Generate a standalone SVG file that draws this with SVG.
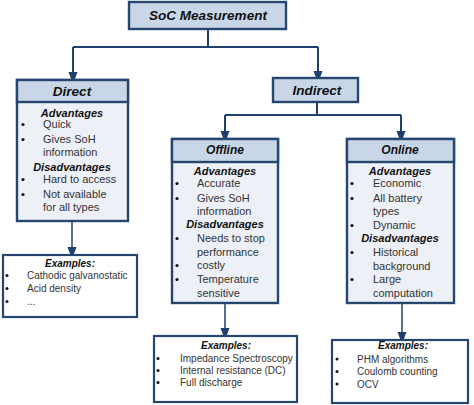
<svg xmlns="http://www.w3.org/2000/svg" width="474" height="405" viewBox="0 0 474 405">
<defs>
<marker id="ahd" markerUnits="userSpaceOnUse" markerWidth="12" markerHeight="16" refX="8" refY="6" orient="auto" viewBox="0 0 16 12">
<path d="M0,0 L16,6 L0,12 Z" fill="#1f3f6e"/>
</marker>
</defs>
<style>
.hdr{fill:#c8d6e8;stroke:#26466f;stroke-width:2.4}
.body{fill:#edf1f7;stroke:#26466f;stroke-width:2.4}
.ex{fill:#ffffff;stroke:#26466f;stroke-width:2.2}
.ht{font-family:"Liberation Sans",Arial,sans-serif;font-weight:bold;font-style:italic;fill:#111;text-anchor:middle}
.h1{font-size:13.5px}
.h2{font-size:12px}
.sub{font-family:"Liberation Sans",Arial,sans-serif;font-weight:bold;font-style:italic;font-size:11px;fill:#111;text-anchor:middle}
.it{font-family:"Liberation Sans",Arial,sans-serif;font-size:11px;fill:#333}
.exh{font-family:"Liberation Sans",Arial,sans-serif;font-weight:bold;font-style:italic;font-size:10px;fill:#111;text-anchor:middle}
.ei{font-family:"Liberation Sans",Arial,sans-serif;font-size:10px;fill:#333}
.b{fill:#111}
.con{fill:none;stroke:#1f3f6e;stroke-width:2}
</style>
<g id="connectors">
<path class="con" d="M208,29 V47"/>
<path class="con" d="M73,47 H318"/>
<path class="con" d="M73,47 V78" marker-end="url(#ahd)"/>
<path class="con" d="M318,47 V77" marker-end="url(#ahd)"/>
<path class="con" d="M317,102 V115"/>
<path class="con" d="M225,115 H401"/>
<path class="con" d="M225,115 V137" marker-end="url(#ahd)"/>
<path class="con" d="M401,115 V137" marker-end="url(#ahd)"/>
<path class="con" style="stroke-width:1.5" d="M72,221 V253" marker-end="url(#ahd)"/>
<path class="con" style="stroke-width:1.5" d="M225,303 V334" marker-end="url(#ahd)"/>
<path class="con" style="stroke-width:1.5" d="M402,303 V338" marker-end="url(#ahd)"/>
</g>
<g id="soc">
<rect class="hdr" x="129" y="2" width="157" height="27"/>
<text class="ht h1" x="208" y="19.5">SoC Measurement</text>
</g>
<g id="direct">
<rect class="body" x="17" y="80" width="111" height="141"/>
<rect class="hdr" x="17" y="80" width="111" height="22"/>
<text class="ht h1" x="72" y="95.5">Direct</text>
<text class="sub" x="72" y="117">Advantages</text>
<circle class="b" cx="23" cy="124.5" r="1.6"/><text class="it" x="43" y="128">Quick</text>
<circle class="b" cx="23" cy="139.5" r="1.6"/><text class="it" x="43" y="143">Gives SoH</text>
<text class="it" x="43" y="156">information</text>
<text class="sub" x="72" y="171">Disadvantages</text>
<circle class="b" cx="23" cy="179.5" r="1.6"/><text class="it" x="43" y="183">Hard to access</text>
<circle class="b" cx="23" cy="194.5" r="1.6"/><text class="it" x="43" y="198">Not available</text>
<text class="it" x="43" y="211">for all types</text>
</g>
<g id="direct-examples">
<rect class="ex" x="3" y="255" width="134" height="62"/>
<text class="exh" x="70" y="266.5">Examples:</text>
<circle class="b" cx="7" cy="275.5" r="1.5"/><text class="ei" x="27" y="278.5">Cathodic galvanostatic</text>
<circle class="b" cx="7" cy="288.5" r="1.5"/><text class="ei" x="27" y="291.5">Acid density</text>
<circle class="b" cx="7" cy="301.5" r="1.5"/><text class="ei" x="27" y="304.5">...</text>
</g>
<g id="indirect">
<rect class="hdr" x="273" y="78" width="85" height="24"/>
<text class="ht h1" x="317" y="95">Indirect</text>
</g>
<g id="offline">
<rect class="body" x="172" y="139" width="106" height="164"/>
<rect class="hdr" x="172" y="139" width="106" height="23"/>
<text class="ht h2" x="225" y="153.5">Offline</text>
<text class="sub" x="225" y="175">Advantages</text>
<circle class="b" cx="177" cy="183.5" r="1.6"/><text class="it" x="197" y="187">Accurate</text>
<circle class="b" cx="177" cy="198.5" r="1.6"/><text class="it" x="197" y="202">Gives SoH</text>
<text class="it" x="197" y="215">information</text>
<text class="sub" x="225" y="228">Disadvantages</text>
<circle class="b" cx="177" cy="238.5" r="1.6"/><text class="it" x="197" y="242">Needs to stop</text>
<text class="it" x="197" y="256">performance</text>
<circle class="b" cx="177" cy="265.5" r="1.6"/><text class="it" x="197" y="269">costly</text>
<circle class="b" cx="177" cy="279.5" r="1.6"/><text class="it" x="197" y="283">Temperature</text>
<text class="it" x="197" y="297">sensitive</text>
</g>
<g id="offline-examples">
<rect class="ex" x="154" y="336" width="143" height="66"/>
<text class="exh" x="226" y="348.5">Examples:</text>
<circle class="b" cx="158" cy="358.5" r="1.5"/><text class="ei" x="180" y="361.5">Impedance Spectroscopy</text>
<circle class="b" cx="158" cy="370.5" r="1.5"/><text class="ei" x="180" y="373.5">Internal resistance (DC)</text>
<circle class="b" cx="158" cy="382.5" r="1.5"/><text class="ei" x="180" y="385.5">Full discharge</text>
</g>
<g id="online">
<rect class="body" x="347" y="139" width="107" height="164"/>
<rect class="hdr" x="347" y="139" width="107" height="23"/>
<text class="ht h2" x="400" y="153.5">Online</text>
<text class="sub" x="400" y="175">Advantages</text>
<circle class="b" cx="352" cy="183.5" r="1.6"/><text class="it" x="373" y="187">Economic</text>
<circle class="b" cx="352" cy="198.5" r="1.6"/><text class="it" x="373" y="202">All battery</text>
<text class="it" x="373" y="215">types</text>
<circle class="b" cx="352" cy="225.5" r="1.6"/><text class="it" x="373" y="229">Dynamic</text>
<text class="sub" x="400" y="242">Disadvantages</text>
<circle class="b" cx="352" cy="252.5" r="1.6"/><text class="it" x="373" y="256">Historical</text>
<text class="it" x="373" y="270">background</text>
<circle class="b" cx="352" cy="279.5" r="1.6"/><text class="it" x="373" y="283">Large</text>
<text class="it" x="373" y="297">computation</text>
</g>
<g id="online-examples">
<rect class="ex" x="332" y="340" width="136" height="63"/>
<text class="exh" x="403" y="348.5">Examples:</text>
<circle class="b" cx="337" cy="359" r="1.5"/><text class="ei" x="357" y="362.5">PHM algorithms</text>
<circle class="b" cx="337" cy="371.5" r="1.5"/><text class="ei" x="357" y="375">Coulomb counting</text>
<circle class="b" cx="337" cy="384" r="1.5"/><text class="ei" x="357" y="387.5">OCV</text>
</g>
</svg>
